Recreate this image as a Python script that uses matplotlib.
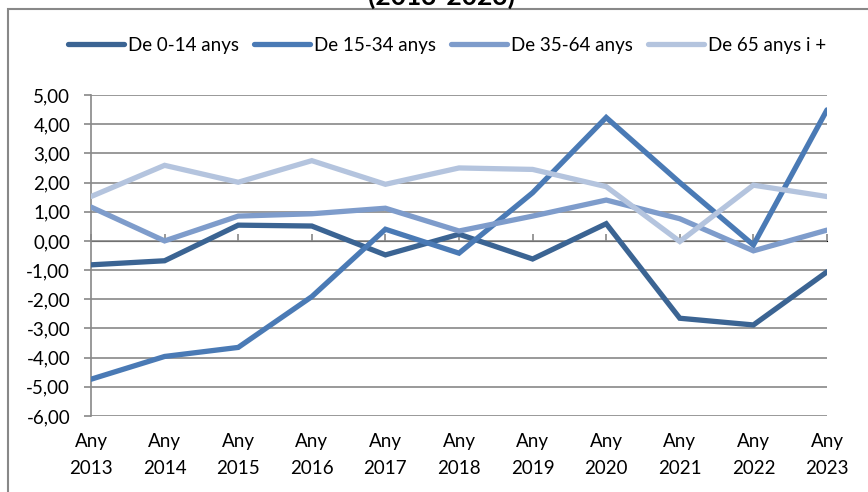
import numpy as np
import matplotlib.pyplot as plt
from matplotlib.patches import Rectangle

years = [2013, 2014, 2015, 2016, 2017, 2018, 2019, 2020, 2021, 2022, 2023]
labels = [f'Any\n{y}' for y in years]

series_names = ['De 0-14 anys', 'De 15-34 anys', 'De 35-64 anys', 'De 65 anys i +']
v_0_14 = [-0.82, -0.68, 0.54, 0.51, -0.48, 0.23, -0.62, 0.59, -2.65, -2.88, -1.06]
v_15_34 = [-4.74, -3.96, -3.65, -1.91, 0.40, -0.42, 1.65, 4.23, 2.00, -0.14, 4.49]
v_35_64 = [1.16, 0.00, 0.85, 0.93, 1.12, 0.34, 0.85, 1.40, 0.76, -0.34, 0.37]
v_65 = [1.52, 2.59, 2.01, 2.75, 1.94, 2.50, 2.45, 1.86, -0.02, 1.91, 1.52]
colors = ['#3B6493', '#4A7AB5', '#7E9CCB', '#B4C4DE']

plt.rcParams['font.family'] = ['Lato', 'DejaVu Sans']

fig = plt.figure(figsize=(8.68, 4.92), dpi=100)
ax = fig.add_axes([91/868, 1 - 416/492, (827 - 91)/868, (416 - 95)/492])

x = np.arange(len(years))
handles = []
for vals, name, c in zip([v_0_14, v_15_34, v_35_64, v_65], series_names, colors):
    h, = ax.plot(x, vals, color=c, lw=3.8, label=name,
                 solid_joinstyle='miter', solid_capstyle='round', zorder=3)
    handles.append(h)

ymin, ymax = -6, 5
ax.set_ylim(ymin, ymax)
ax.set_xlim(0, len(years) - 1)
ax.set_yticks(np.arange(ymin, ymax + 1))
ax.set_yticklabels([f'{v:.2f}'.replace('.', ',') for v in np.arange(ymin, ymax + 1)])
ax.set_xticks(x)
ax.set_xticklabels(labels, linespacing=1.75)
ax.grid(axis='y', color='#888888', lw=1.2)
ax.set_axisbelow(True)
for s in ['top', 'right', 'bottom']:
    ax.spines[s].set_visible(False)
ax.spines['left'].set_color('#888888')
ax.spines['left'].set_linewidth(1.2)
ax.tick_params(axis='y', direction='out', length=5, width=1.2, color='#888888',
               labelsize=13.5, pad=10)
ax.tick_params(axis='x', length=0, labelsize=13.5, pad=12)

# category axis line crosses at zero
sec = ax.secondary_xaxis((0 - ymin) / (ymax - ymin))
sec.set_xticks(x)
sec.set_xticklabels([])
sec.spines['bottom'].set_color('#888888')
sec.spines['bottom'].set_linewidth(1.2)
sec.tick_params(axis='x', direction='out', length=5, width=1.2, color='#888888')

leg = fig.legend(handles=handles, loc='center', bbox_to_anchor=(447/868, 1 - 45/492),
                 ncol=4, frameon=False, fontsize=13.5, handlelength=3.0,
                 handletextpad=0.2, columnspacing=0.8)

fig.text(442/868, 1 - 5/492, '(2013-2023)', ha='center', va='baseline',
         fontsize=19, fontweight='bold')

fig.patches.append(Rectangle((8/868, -0.1), 1.2, 1 - 9/492 + 0.1,
                             transform=fig.transFigure, fill=False,
                             edgecolor='#888888', lw=1.5))

fig.savefig('out.png', dpi=100)
